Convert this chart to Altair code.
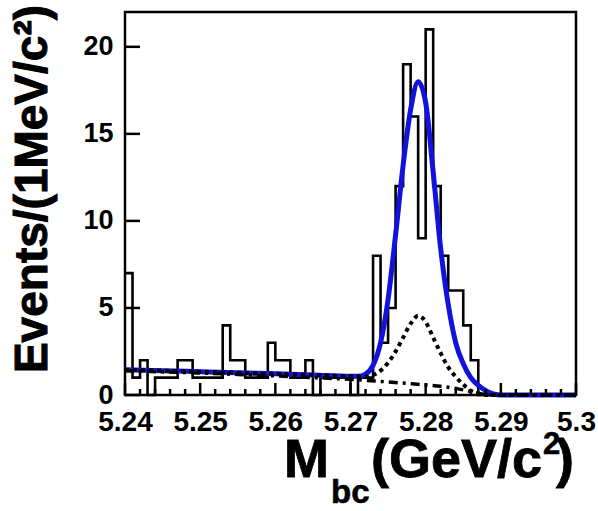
import altair as alt
import pandas as pd

# ---------------- data ----------------
# 1 MeV bins from 5.240 to 5.300 GeV
bin_lo = [round(5.240 + 0.001 * i, 3) for i in range(60)]
counts = [7, 1, 2, 0, 1, 1, 1, 2, 2, 1,
          1, 1, 1, 4, 2, 2, 1, 1, 1, 3,
          2, 2, 1, 1, 2, 0, 1, 1, 1, 1,
          0, 1, 1, 8, 3, 5, 12, 19, 16, 9,
          21, 12, 8, 6, 6, 4, 2, 0, 0, 0,
          0, 0, 0, 0, 0, 0, 0, 0, 0, 0]

# total fit (solid blue)
tot_x = [5.240, 5.245, 5.250, 5.255, 5.260, 5.265, 5.270, 5.271, 5.272, 5.273,
         5.274, 5.275, 5.276, 5.277, 5.278, 5.279, 5.280, 5.281, 5.282, 5.283,
         5.284, 5.285, 5.286, 5.287, 5.288, 5.289, 5.290, 5.300]
tot_y = [1.45, 1.40, 1.34, 1.28, 1.22, 1.15, 1.07, 1.07, 1.20, 1.70,
         3.0, 5.5, 9.2, 13.2, 16.4, 18.0, 16.8, 12.8, 8.4, 5.2,
         3.0, 1.8, 1.0, 0.55, 0.25, 0.07, 0.0, 0.0]

# background + peaking component (dotted)
dot_x = [5.240, 5.245, 5.250, 5.255, 5.260, 5.265, 5.270, 5.272, 5.2735, 5.275,
         5.276, 5.277, 5.278, 5.279, 5.280, 5.281, 5.282, 5.283, 5.284, 5.285,
         5.286, 5.287, 5.288, 5.300]
dot_y = [1.45, 1.40, 1.34, 1.28, 1.22, 1.15, 1.07, 1.05, 1.25, 1.85,
         2.5, 3.3, 4.1, 4.55, 4.2, 3.3, 2.4, 1.6, 1.05, 0.6,
         0.25, 0.08, 0.0, 0.0]

# continuum background (dash-dot)
dd_x = [5.240, 5.245, 5.250, 5.255, 5.260, 5.265, 5.270, 5.275, 5.278, 5.280,
        5.282, 5.284, 5.286, 5.287, 5.288, 5.289, 5.300]
dd_y = [1.40, 1.33, 1.26, 1.18, 1.10, 1.00, 0.90, 0.75, 0.65, 0.58,
        0.50, 0.38, 0.20, 0.10, 0.03, 0.0, 0.0]

x_major = [5.24, 5.25, 5.26, 5.27, 5.28, 5.29, 5.30]
x_minor = [5.242, 5.244, 5.246, 5.248, 5.252, 5.254, 5.256, 5.258,
           5.262, 5.264, 5.266, 5.268, 5.272, 5.274, 5.276, 5.278,
           5.282, 5.284, 5.286, 5.288, 5.292, 5.294, 5.296, 5.298]
y_major = [0, 5, 10, 15, 20]

# ---------------- layout ----------------
W, H = 451, 383
FONT = "Liberation Sans"
X0, X1, Y0, Y1 = 5.24, 5.30, 0, 22

xs = alt.Scale(domain=[X0, X1], nice=False, zero=False)
ys = alt.Scale(domain=[Y0, Y1], nice=False, zero=True)

xaxis = alt.Axis(values=x_major, format=".2~f", title=None, ticks=False, domain=False,
                 grid=False, labelFont=FONT, labelFontWeight="bold", labelFontSize=28,
                 labelColor="black", labelPadding=13, labelFlush=False, labelOverlap=False)
yaxis = alt.Axis(values=y_major, title=None, ticks=False, domain=False, grid=False,
                 labelFont=FONT, labelFontWeight="bold", labelFontSize=27,
                 labelColor="black", labelPadding=12, labelOverlap=False)

X = alt.X("x:Q", scale=xs, axis=xaxis)
Y = alt.Y("y:Q", scale=ys, axis=yaxis)

hist_df = pd.DataFrame({"x": bin_lo + [5.300], "y": counts + [counts[-1]]})
tot_df = pd.DataFrame({"x": tot_x, "y": tot_y})
dot_df = pd.DataFrame({"x": dot_x, "y": dot_y})
dd_df = pd.DataFrame({"x": dd_x, "y": dd_y})

hist = alt.Chart(hist_df).mark_line(interpolate="step-after", color="black",
                                    strokeWidth=2.6).encode(x=X, y=Y)
total = alt.Chart(tot_df).mark_line(interpolate="monotone", color="#1212dc",
                                    strokeWidth=5).encode(x=X, y=Y)
dotted = alt.Chart(dot_df).mark_line(interpolate="monotone", color="black",
                                     strokeWidth=4, strokeDash=[4, 4]).encode(x=X, y=Y)
dashdot = alt.Chart(dd_df).mark_line(interpolate="monotone", color="black",
                                     strokeWidth=3.5, strokeDash=[9, 5, 3, 5]).encode(x=X, y=Y)

# inward ticks, lengths converted from pixels to data units
px_y = (Y1 - Y0) / H
px_x = (X1 - X0) / W
xmaj_df = pd.DataFrame({"x": x_major, "y": [Y0] * len(x_major),
                        "y2": [Y0 + 12 * px_y] * len(x_major)})
xmin_df = pd.DataFrame({"x": x_minor, "y": [Y0] * len(x_minor),
                        "y2": [Y0 + 6 * px_y] * len(x_minor)})
ytk_df = pd.DataFrame({"y": y_major, "x": [X0] * len(y_major),
                       "x2": [X0 + 15 * px_x] * len(y_major)})

xt_major = alt.Chart(xmaj_df).mark_rule(color="black", strokeWidth=2.5).encode(
    x=X, y=Y, y2="y2:Q")
xt_minor = alt.Chart(xmin_df).mark_rule(color="black", strokeWidth=2.5).encode(
    x=X, y=Y, y2="y2:Q")
yt_major = alt.Chart(ytk_df).mark_rule(color="black", strokeWidth=2.5).encode(
    x=X, x2="x2:Q", y=Y)


def label(text, px, py, size, angle=0, align="left", baseline="alphabetic", sw=0.8):
    return alt.Chart(pd.DataFrame({"t": [text]})).mark_text(
        font=FONT, fontWeight="bold", fontSize=size, color="black",
        stroke="black", strokeWidth=sw,
        align=align, baseline=baseline, angle=angle).encode(
        x=alt.value(px - 125), y=alt.value(py - 12), text="t:N")


ytitle = label("Events/(1MeV/c\u00b2)", 47, 189, 46, angle=270, align="center", sw=1.0)
xt_M = label("M", 284, 477, 54)
xt_bc = label("bc", 331, 503, 33, sw=0.6)
xt_main = label("(GeV/c", 371, 477, 54)
xt_sup = label("2", 543, 454, 31, sw=0.6)
xt_par = label(")", 556, 477, 54)

chart = alt.layer(
    hist, total, dotted, dashdot, xt_major, xt_minor, yt_major,
    ytitle, xt_M, xt_bc, xt_main, xt_sup, xt_par
).properties(
    width=W, height=H,
    padding={"left": 125, "top": 12, "right": 22, "bottom": 116},
    autosize=alt.AutoSizeParams(type="none"),
    background="white",
).configure_view(stroke="black", strokeWidth=2.5)

chart.save("out.html", embed_options={"renderer": "svg", "actions": False})
